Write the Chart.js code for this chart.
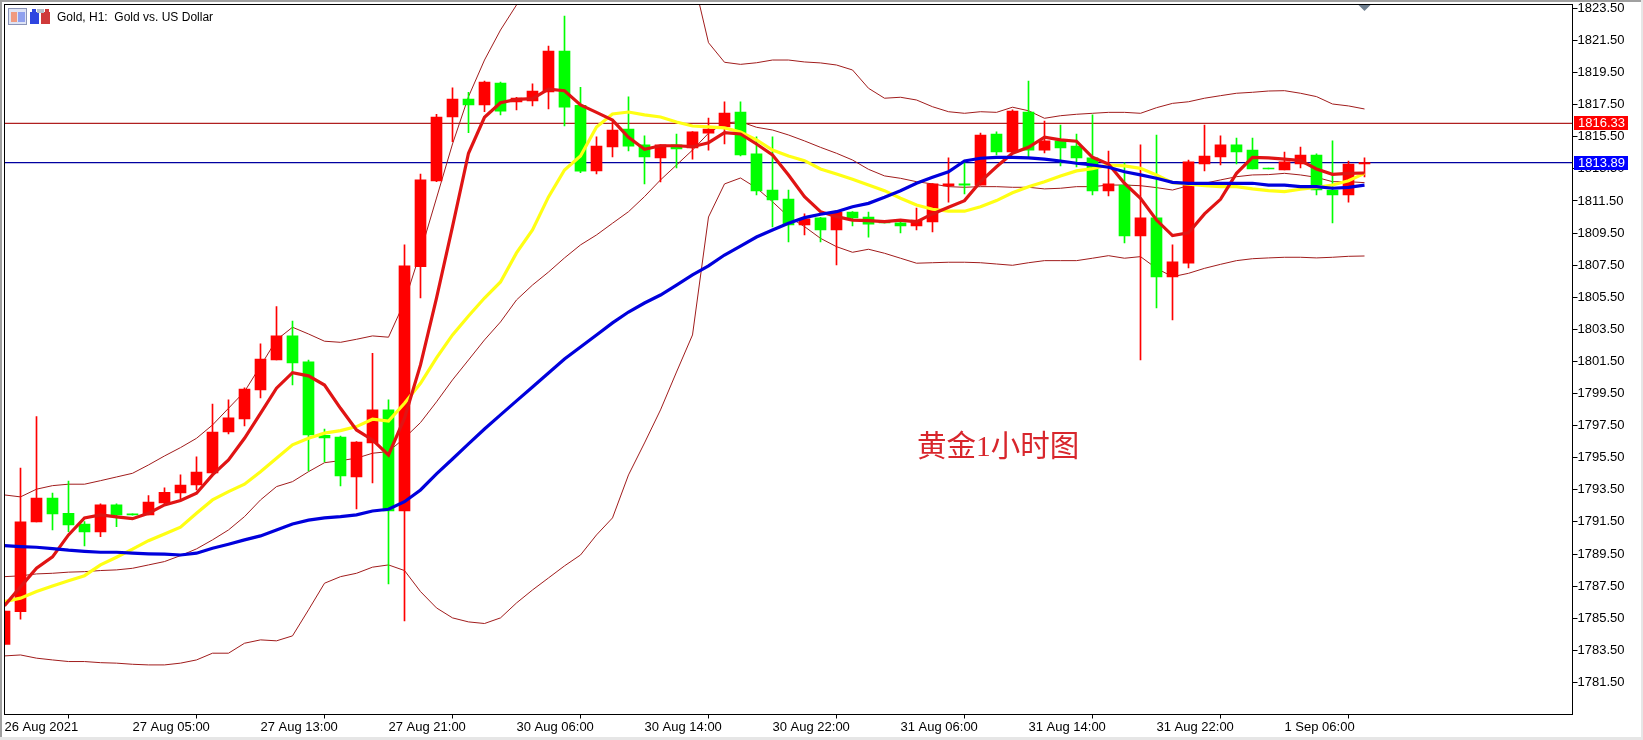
<!DOCTYPE html>
<html>
<head>
<meta charset="utf-8">
<title>Gold H1</title>
<script src="https://cdn.jsdelivr.net/npm/chart.js@4"></script>
<style>
html, body { margin: 0; padding: 0; background: #fff; }
canvas { display: block; }
</style>
</head>
<body>
<canvas id="goldChart" width="1643" height="740"></canvas>
<script>
var opens = [1783.86,1785.91,1791.50,1792.99,1792.04,1791.37,1790.88,1792.56,1791.98,1791.94,
    1792.68,1793.30,1793.80,1794.55,1797.11,1797.92,1799.72,1801.59,1803.09,1801.47,
    1796.90,1796.79,1794.30,1796.42,1798.48,1792.18,1807.40,1812.74,1816.73,1817.85,
    1817.48,1818.85,1817.67,1817.73,1818.29,1820.84,1817.46,1813.37,1814.86,1815.98,
    1814.99,1814.18,1814.99,1814.80,1815.73,1816.11,1817.04,1814.43,1812.18,1811.62,
    1810.00,1810.44,1809.69,1810.81,1810.50,1810.25,1810.13,1809.94,1810.19,1812.43,
    1812.56,1812.49,1815.67,1814.55,1817.04,1814.67,1815.24,1814.92,1814.18,1812.12,
    1812.49,1809.32,1810.44,1806.76,1807.63,1813.80,1814.24,1814.99,1814.67,1813.55,
    1813.43,1813.80,1814.36,1812.18,1811.87,1813.80];
var closes = [1785.95,1791.50,1792.99,1792.00,1791.31,1790.88,1792.56,1791.94,1791.94,1792.73,
    1793.35,1793.80,1794.61,1797.09,1797.98,1799.78,1801.65,1803.09,1801.40,1796.92,
    1796.73,1794.37,1796.48,1798.48,1792.18,1807.45,1812.81,1816.73,1817.85,1817.48,
    1818.91,1817.10,1817.91,1818.35,1820.84,1817.35,1813.35,1814.92,1815.92,1814.92,
    1814.24,1814.99,1814.74,1815.80,1815.98,1816.98,1814.36,1812.12,1811.56,1810.00,
    1810.38,1809.69,1810.81,1810.44,1810.06,1810.13,1809.94,1810.31,1812.56,1812.56,
    1812.49,1815.61,1814.55,1817.10,1814.67,1815.24,1814.80,1814.18,1812.12,1812.56,
    1809.32,1810.44,1806.76,1807.70,1813.93,1814.30,1814.99,1814.55,1813.49,1813.49,
    1813.93,1814.36,1812.18,1811.87,1813.80,1813.89];
var highs = [1785.95,1794.86,1798.06,1793.29,1794.05,1791.52,1792.62,1792.62,1792.00,1793.14,
    1793.62,1794.43,1795.55,1798.85,1799.10,1799.85,1802.59,1804.91,1804.02,1801.59,
    1797.29,1796.85,1796.50,1802.01,1799.10,1808.76,1813.18,1816.90,1818.54,1818.27,
    1818.97,1818.91,1817.96,1818.79,1821.15,1823.02,1818.58,1815.49,1816.42,1817.98,
    1815.55,1815.00,1815.67,1815.82,1816.67,1817.67,1817.67,1815.49,1815.49,1812.18,
    1810.69,1810.48,1810.83,1810.83,1810.81,1810.25,1810.25,1811.06,1812.58,1814.18,
    1813.93,1815.73,1815.80,1817.17,1818.97,1816.48,1816.23,1815.67,1816.86,1814.61,
    1813.87,1814.99,1815.61,1808.76,1814.05,1816.23,1815.55,1815.42,1815.42,1813.55,
    1814.55,1814.86,1814.43,1815.24,1813.99,1814.18];
var lows = [1783.86,1785.44,1791.50,1791.00,1790.89,1790.00,1790.58,1791.21,1791.92,1791.94,
    1792.62,1792.93,1793.49,1794.43,1796.98,1797.48,1799.22,1801.59,1800.03,1794.68,
    1795.24,1793.74,1792.31,1793.93,1787.64,1785.33,1805.45,1812.70,1815.19,1815.75,
    1817.06,1816.86,1817.17,1817.42,1817.23,1816.17,1813.26,1813.18,1814.24,1814.61,
    1812.56,1812.68,1813.55,1814.11,1814.67,1815.05,1814.30,1811.87,1809.88,1808.94,
    1809.38,1808.94,1807.51,1809.94,1809.25,1810.13,1809.50,1809.69,1809.57,1811.43,
    1811.93,1812.49,1814.36,1814.55,1814.24,1814.49,1813.68,1813.62,1811.87,1811.81,
    1808.88,1801.59,1804.83,1804.08,1807.32,1813.37,1813.74,1813.80,1813.49,1813.49,
    1813.43,1813.55,1811.87,1810.13,1811.43,1812.99];

// thick moving averages
var maRed = [1786.28,1787.45,1788.61,1789.32,1790.69,1791.75,1791.94,1791.81,1791.70,1792.04,
    1792.56,1792.83,1793.29,1794.43,1795.36,1796.71,1798.27,1799.83,1800.80,1800.60,
    1800.03,1798.58,1797.23,1796.61,1795.67,1797.96,1801.28,1805.45,1809.90,1814.47,
    1816.71,1817.62,1817.83,1817.87,1818.46,1818.37,1817.48,1817.02,1816.54,1815.47,
    1814.72,1814.94,1814.94,1814.88,1815.13,1815.75,1815.67,1815.05,1814.36,1813.12,
    1811.77,1810.83,1810.52,1810.31,1810.27,1810.21,1810.30,1810.19,1810.69,1811.11,
    1811.52,1812.70,1813.63,1814.47,1814.84,1815.47,1815.30,1815.22,1814.22,1813.80,
    1812.60,1811.67,1810.31,1809.34,1809.52,1810.69,1811.60,1813.22,1814.22,1814.18,
    1814.10,1814.01,1813.49,1813.16,1813.22,1813.24];
var maYellow = [1786.53,1786.75,1787.16,1787.51,1787.84,1788.15,1788.82,1789.30,1789.80,1790.33,
    1790.75,1791.17,1792.04,1792.87,1793.39,1793.85,1794.63,1795.47,1796.30,1796.71,
    1797.03,1797.19,1797.44,1797.90,1797.79,1798.89,1800.14,1801.72,1803.15,1804.33,
    1805.45,1806.45,1808.26,1809.69,1811.75,1813.43,1814.30,1816.11,1816.92,1817.04,
    1816.86,1816.73,1816.42,1816.17,1816.11,1816.05,1815.80,1815.30,1814.67,1814.30,
    1814.01,1813.49,1813.18,1812.85,1812.49,1812.14,1811.67,1811.25,1810.98,1810.86,
    1810.86,1811.14,1811.52,1812.01,1812.39,1812.70,1813.06,1813.37,1813.51,1813.74,
    1813.68,1813.53,1813.12,1812.64,1812.54,1812.45,1812.39,1812.39,1812.25,1812.14,
    1812.08,1812.23,1812.35,1812.49,1812.76,1813.22];
var maBlue = [1790.02,1789.96,1789.92,1789.84,1789.74,1789.67,1789.61,1789.61,1789.55,1789.51,
    1789.49,1789.44,1789.55,1789.86,1790.11,1790.38,1790.63,1791.00,1791.37,1791.61,
    1791.75,1791.83,1791.94,1792.18,1792.29,1792.76,1793.49,1794.49,1795.42,1796.36,
    1797.29,1798.17,1799.04,1799.91,1800.78,1801.65,1802.40,1803.15,1803.90,1804.58,
    1805.14,1805.64,1806.26,1806.89,1807.45,1808.13,1808.69,1809.25,1809.69,1810.11,
    1810.46,1810.67,1810.83,1811.14,1811.35,1811.73,1812.14,1812.60,1812.97,1813.32,
    1813.99,1814.16,1814.22,1814.22,1814.18,1814.11,1813.99,1813.85,1813.74,1813.60,
    1813.32,1813.12,1812.91,1812.66,1812.60,1812.60,1812.60,1812.60,1812.60,1812.49,
    1812.49,1812.39,1812.39,1812.29,1812.35,1812.49];

// bollinger bands (upper runs off the top of the chart around 30 Aug)
var bbUpper = [1793.18,1793.06,1793.54,1793.76,1793.85,1793.85,1794.07,1794.30,1794.53,1795.05,
    1795.61,1796.13,1796.71,1797.54,1798.58,1799.62,1801.22,1802.84,1803.63,1803.21,
    1802.76,1802.69,1802.88,1803.09,1803.01,1805.21,1808.32,1811.68,1815.05,1818.00,
    1820.28,1822.15,1823.71,1825.30,1826.60,1827.60,1828.20,1828.60,1828.80,1828.80,
    1828.50,1827.90,1827.00,1825.60,1821.36,1820.14,1820.01,1820.11,1820.28,1820.28,
    1820.16,1820.10,1819.97,1819.66,1818.52,1817.90,1817.96,1817.79,1817.37,1817.06,
    1816.96,1817.06,1817.02,1817.34,1817.12,1816.65,1816.81,1816.90,1816.96,1817.02,
    1817.02,1816.96,1817.31,1817.58,1817.68,1817.90,1818.06,1818.21,1818.27,1818.35,
    1818.37,1818.21,1818.00,1817.54,1817.42,1817.23];
var bbMiddle = [1788.09,1788.14,1788.26,1788.30,1788.37,1788.40,1788.47,1788.51,1788.61,1788.82,
    1789.03,1789.40,1789.82,1790.38,1791.00,1791.83,1792.87,1793.70,1794.01,1794.63,
    1795.19,1795.32,1795.47,1795.78,1795.88,1796.73,1797.69,1798.98,1800.35,1801.59,
    1802.84,1803.96,1805.33,1806.26,1807.07,1807.95,1808.76,1809.38,1810.11,1810.83,
    1811.77,1812.81,1813.74,1814.67,1815.72,1816.36,1816.44,1816.09,1815.92,1815.61,
    1815.24,1814.84,1814.47,1814.05,1813.47,1813.06,1812.91,1812.70,1812.56,1812.39,
    1812.35,1812.39,1812.39,1812.35,1812.35,1812.25,1812.29,1812.39,1812.39,1812.49,
    1812.49,1812.45,1812.33,1812.18,1812.45,1812.60,1812.81,1813.01,1813.12,1813.14,
    1813.22,1813.12,1812.97,1812.70,1812.70,1812.64];
var bbLower = [1783.15,1783.21,1783.01,1782.90,1782.80,1782.80,1782.73,1782.70,1782.63,1782.59,
    1782.59,1782.70,1782.90,1783.32,1783.32,1783.94,1784.15,1784.09,1784.40,1786.02,
    1787.68,1788.09,1788.30,1788.68,1788.82,1788.47,1787.16,1786.14,1785.52,1785.27,
    1785.17,1785.52,1786.45,1787.26,1788.01,1788.76,1789.44,1790.69,1791.75,1794.43,
    1796.42,1798.48,1800.84,1803.15,1810.50,1812.56,1812.93,1812.31,1811.45,1810.52,
    1809.90,1809.17,1808.65,1808.30,1808.49,1808.24,1807.93,1807.62,1807.65,1807.68,
    1807.68,1807.65,1807.57,1807.49,1807.65,1807.78,1807.78,1807.78,1807.93,1808.09,
    1807.93,1808.03,1807.30,1806.78,1806.99,1807.30,1807.55,1807.78,1807.90,1807.95,
    1807.99,1807.99,1807.95,1807.99,1808.05,1808.07];

var priceLevels = [1816.33, 1813.89];
var xTickIndex = [0, 8, 16, 24, 32, 40, 48, 56, 64, 72, 80];
var xTickLabels = ['26 Aug 2021', '27 Aug 05:00', '27 Aug 13:00', '27 Aug 21:00', '30 Aug 06:00',
    '30 Aug 14:00', '30 Aug 22:00', '31 Aug 06:00', '31 Aug 14:00', '31 Aug 22:00', '1 Sep 06:00'];
var yTicks = [1781.5, 1783.5, 1785.5, 1787.5, 1789.5, 1791.5, 1793.5, 1795.5, 1797.5, 1799.5, 1801.5,
    1803.5, 1805.5, 1807.5, 1809.5, 1811.5, 1813.5, 1815.5, 1817.5, 1819.5, 1821.5, 1823.5];

var uiFont = '13px "Liberation Sans"';

function toPoints(values) {
    return values.map(function (v, i) { return { x: i, y: v }; });
}

function lineSet(values, color, width, order) {
    return {
        type: 'line',
        data: toPoints(values),
        borderColor: color,
        borderWidth: width,
        pointRadius: 0,
        tension: 0,
        order: order
    };
}

function levelSet(value, color) {
    return {
        type: 'line',
        data: [{ x: 0, y: value }, { x: 98, y: value }],
        borderColor: color,
        borderWidth: 1.1,
        pointRadius: 0,
        order: 10
    };
}

function candleColor(ctx) {
    var i = ctx.dataIndex;
    return closes[i] >= opens[i] ? '#ff0000' : '#00ff00';
}

function box(ctx, x, y, w, h, color) {
    ctx.fillStyle = color;
    ctx.fillRect(x, y, w, h);
}

// stops the tick labels from pushing the chart area in
function noAxisPadding(axis) {
    axis.paddingTop = 0;
    axis.paddingBottom = 0;
    axis.paddingLeft = 0;
    axis.paddingRight = 0;
}

// window frame, chart border, header, text, markers the library has no element for
var decorations = {
    id: 'decorations',
    beforeDraw: function (chart) {
        var c = chart.ctx;
        c.save();
        box(c, 0, 0, 1643, 740, '#ffffff');
        box(c, 0, 0, 1643, 2, '#a0a0a0');
        box(c, 0, 0, 2, 740, '#a0a0a0');
        box(c, 1641, 0, 2, 740, '#e6e6e6');
        box(c, 0, 737, 1643, 3, '#e6e6e6');
        c.restore();
    },
    afterDraw: function (chart) {
        var c = chart.ctx, a = chart.chartArea;
        var x = chart.scales.x, y = chart.scales.y;
        c.save();
        // border
        c.strokeStyle = '#000000';
        c.lineWidth = 1;
        c.strokeRect(a.left, a.top, a.right - a.left, a.bottom - a.top);

        // current bar marker
        var mx = x.getPixelForValue(opens.length - 1);
        c.fillStyle = '#708090';
        c.beginPath();
        c.moveTo(mx - 6, 5);
        c.lineTo(mx + 6, 5);
        c.lineTo(mx, 11);
        c.closePath();
        c.fill();

        // price labels
        c.font = uiFont;
        c.textBaseline = 'middle';
        var tags = ['#ff0000', '#0000ff'];
        priceLevels.forEach(function (p, i) {
            var py = y.getPixelForValue(p);
            c.fillStyle = tags[i];
            c.fillRect(1574, Math.round(py) - 7, 54, 14);
            c.fillStyle = '#ffffff';
            c.fillText(p.toFixed(2), 1578, py + 0.5);
        });

        // header icons
        box(c, 8, 8, 19, 17, '#8a94b8');
        box(c, 9, 9, 17, 15, '#dfe4f5');
        box(c, 11, 12, 6, 10, '#f09a80');
        box(c, 18, 12, 7, 10, '#8fa0ee');
        box(c, 30, 12, 9, 12, '#2f45e0');
        box(c, 32, 9, 4, 4, '#2f45e0');
        box(c, 41, 12, 9, 12, '#cf3a3a');
        box(c, 45, 9, 4, 4, '#cf3a3a');
        box(c, 37, 9, 7, 4, '#b8c0c8');

        // header text
        c.font = '12px "Liberation Sans"';
        c.fillStyle = '#000000';
        c.fillText('Gold, H1:  Gold vs. US Dollar', 57, 18);

        // annotation
        c.font = '29.5px "Liberation Serif", "Noto Sans CJK SC"';
        c.fillStyle = '#d8262c';
        c.textBaseline = 'middle';
        c.fillText('黄金1小时图', 917, 448.5);
        c.restore();
    }
};

var ctx = document.getElementById('goldChart').getContext('2d');
var goldChart = new Chart(ctx, {
    type: 'bar',
    data: {
        datasets: [
            levelSet(priceLevels[0], '#b02020'),
            levelSet(priceLevels[1], '#0000a0'),
            lineSet(bbUpper, '#a01c1c', 1, 9),
            lineSet(bbMiddle, '#a01c1c', 1, 9),
            lineSet(bbLower, '#a01c1c', 1, 9),
            {
                data: opens.map(function (o, i) { return { x: i, y: [lows[i], highs[i]] }; }),
                backgroundColor: candleColor,
                barThickness: 1,
                minBarLength: 1,
                grouped: false,
                order: 8
            },
            {
                data: opens.map(function (o, i) { return { x: i, y: [o, closes[i]] }; }),
                backgroundColor: candleColor,
                barThickness: 11,
                minBarLength: 1,
                grouped: false,
                order: 7
            },
            lineSet(maYellow, '#ffff14', 3.2, 4),
            lineSet(maRed, '#e01414', 3.2, 3),
            lineSet(maBlue, '#0000dc', 3.2, 2)
        ]
    },
    plugins: [decorations],
    options: {
        responsive: false,
        animation: false,
        devicePixelRatio: 1,
        parsing: { xAxisKey: 'x', yAxisKey: 'y' },
        layout: { padding: { left: 4.5, top: 4.5, right: 0, bottom: 0 } },
        plugins: {
            legend: { display: false },
            title: { display: false },
            tooltip: { enabled: false }
        },
        scales: {
            x: {
                type: 'linear',
                min: 0,
                max: 98,
                offset: false,
                grid: { drawOnChartArea: false, color: '#000000', tickColor: '#000000', tickLength: 4, tickWidth: 1 },
                border: { display: false },
                afterBuildTicks: function (axis) {
                    axis.ticks = xTickIndex.map(function (v) { return { value: v }; });
                },
                afterFit: function (axis) {
                    axis.height = 25.5;
                    noAxisPadding(axis);
                },
                ticks: {
                    autoSkip: false,
                    maxRotation: 0,
                    align: 'start',
                    padding: 1,
                    color: '#000000',
                    font: { family: 'Liberation Sans', size: 13 },
                    callback: function (value) { return xTickLabels[xTickIndex.indexOf(value)]; }
                }
            },
            y: {
                type: 'linear',
                position: 'right',
                min: 1779.5,
                max: 1823.74,
                grid: { drawOnChartArea: false, color: '#000000', tickColor: '#000000', tickLength: 5, tickWidth: 1 },
                border: { display: false },
                afterBuildTicks: function (axis) {
                    axis.ticks = yTicks.map(function (v) { return { value: v }; });
                },
                afterFit: function (axis) {
                    axis.width = 70.5;
                    noAxisPadding(axis);
                },
                ticks: {
                    padding: 0,
                    color: '#000000',
                    font: { family: 'Liberation Sans', size: 13 },
                    callback: function (value) { return value.toFixed(2); }
                }
            }
        }
    }
});
</script>
</body>
</html>
